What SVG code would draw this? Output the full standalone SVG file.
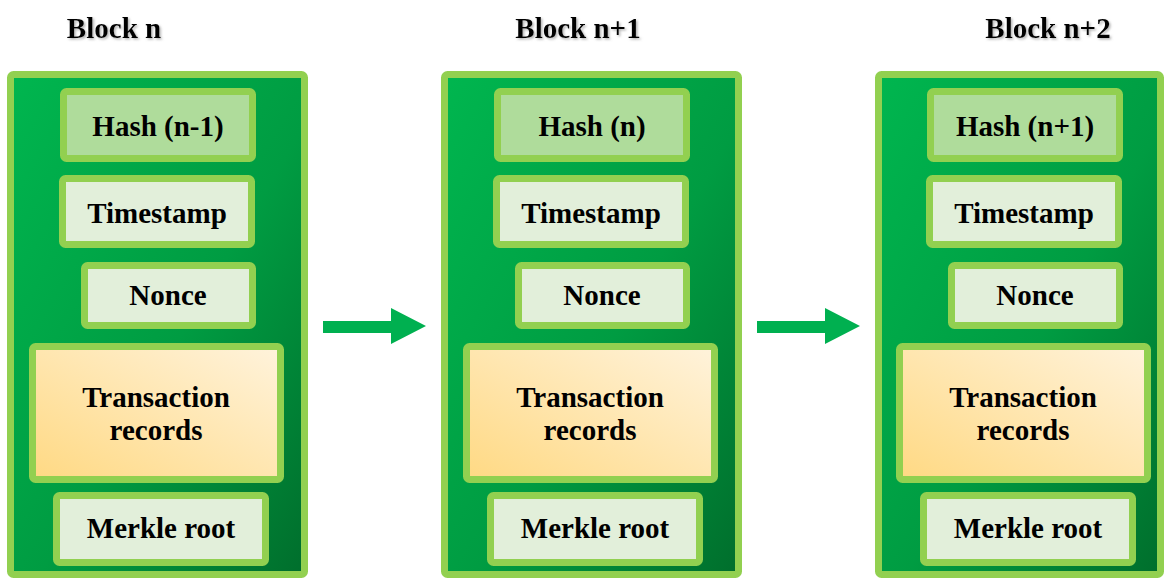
<svg xmlns="http://www.w3.org/2000/svg" width="1168" height="578" viewBox="0 0 1168 578">
  <defs>
    <linearGradient id="blockFill" x1="0" y1="0" x2="1" y2="1">
      <stop offset="0" stop-color="#00b64f"/>
      <stop offset="0.55" stop-color="#009c42"/>
      <stop offset="1" stop-color="#006e2c"/>
    </linearGradient>
    <linearGradient id="txFill" x1="0" y1="1" x2="1" y2="0">
      <stop offset="0" stop-color="#ffd983"/>
      <stop offset="1" stop-color="#fff3dc"/>
    </linearGradient>
    <filter id="titleShadow" x="-10%" y="-30%" width="120%" height="160%">
      <feDropShadow dx="1.5" dy="1.5" stdDeviation="1" flood-color="#808080" flood-opacity="0.6"/>
    </filter>
  </defs>
  <style>
    .outer { fill: url(#blockFill); stroke: #92d050; stroke-width: 7; }
    .box { stroke: #92d050; stroke-width: 7; }
    .hash { fill: #afdc9b; }
    .field { fill: #e2efda; }
    .tx { fill: url(#txFill); }
    text { font-family: "Liberation Serif", "Times New Roman", serif; font-weight: bold; font-size: 29px; fill: #000; text-anchor: middle; }
    .title { filter: url(#titleShadow); }
    .arrow { fill: #00b050; }
  </style>

  <rect width="1168" height="578" fill="#ffffff"/>

  <!-- Block n -->
  <g id="block-n">
    <text class="title" x="114" y="38">Block n</text>
    <rect class="outer" x="10.5" y="74.5" width="294" height="500" rx="3"/>
    <g id="block-n-hash">
      <rect class="box hash" x="63.5" y="91.5" width="189" height="67" rx="3"/>
      <text x="158" y="136">Hash (n-1)</text>
    </g>
    <g id="block-n-timestamp">
      <rect class="box field" x="62.5" y="178.5" width="189" height="66" rx="3"/>
      <text x="157" y="223">Timestamp</text>
    </g>
    <g id="block-n-nonce">
      <rect class="box field" x="84.5" y="265.5" width="168" height="60" rx="3"/>
      <text x="168" y="305">Nonce</text>
    </g>
    <g id="block-n-transactions">
      <rect class="box tx" x="32.5" y="346.5" width="248" height="133" rx="3"/>
      <text x="156" y="407">Transaction</text>
      <text x="156" y="440">records</text>
    </g>
    <g id="block-n-merkle">
      <rect class="box field" x="56.5" y="495.5" width="209" height="67" rx="3"/>
      <text x="161" y="538">Merkle root</text>
    </g>
  </g>

  <!-- Block n+1 -->
  <g id="block-n1" transform="translate(434,0)">
    <text class="title" x="144" y="38">Block n+1</text>
    <rect class="outer" x="10.5" y="74.5" width="294" height="500" rx="3"/>
    <g id="block-n1-hash">
      <rect class="box hash" x="63.5" y="91.5" width="189" height="67" rx="3"/>
      <text x="158" y="136">Hash (n)</text>
    </g>
    <g id="block-n1-timestamp">
      <rect class="box field" x="62.5" y="178.5" width="189" height="66" rx="3"/>
      <text x="157" y="223">Timestamp</text>
    </g>
    <g id="block-n1-nonce">
      <rect class="box field" x="84.5" y="265.5" width="168" height="60" rx="3"/>
      <text x="168" y="305">Nonce</text>
    </g>
    <g id="block-n1-transactions">
      <rect class="box tx" x="32.5" y="346.5" width="248" height="133" rx="3"/>
      <text x="156" y="407">Transaction</text>
      <text x="156" y="440">records</text>
    </g>
    <g id="block-n1-merkle">
      <rect class="box field" x="56.5" y="495.5" width="209" height="67" rx="3"/>
      <text x="161" y="538">Merkle root</text>
    </g>
  </g>

  <!-- Block n+2 -->
  <g id="block-n2" transform="translate(867,0)">
    <text class="title" x="181" y="38">Block n+2</text>
    <rect class="outer" x="11.5" y="74.5" width="282" height="500" rx="3"/>
    <g id="block-n2-hash">
      <rect class="box hash" x="63.5" y="91.5" width="189" height="67" rx="3"/>
      <text x="158" y="136">Hash (n+1)</text>
    </g>
    <g id="block-n2-timestamp">
      <rect class="box field" x="62.5" y="178.5" width="189" height="66" rx="3"/>
      <text x="157" y="223">Timestamp</text>
    </g>
    <g id="block-n2-nonce">
      <rect class="box field" x="84.5" y="265.5" width="168" height="60" rx="3"/>
      <text x="168" y="305">Nonce</text>
    </g>
    <g id="block-n2-transactions">
      <rect class="box tx" x="32.5" y="346.5" width="248" height="133" rx="3"/>
      <text x="156" y="407">Transaction</text>
      <text x="156" y="440">records</text>
    </g>
    <g id="block-n2-merkle">
      <rect class="box field" x="56.5" y="495.5" width="209" height="67" rx="3"/>
      <text x="161" y="538">Merkle root</text>
    </g>
  </g>

  <!-- Chain links between blocks -->
  <g id="connectors">
    <polygon class="arrow" points="323,321 391,321 391,308 426,326 391,344 391,333 323,333"/>
    <polygon class="arrow" points="757,321 825,321 825,308 860,326 825,344 825,333 757,333"/>
  </g>
</svg>
